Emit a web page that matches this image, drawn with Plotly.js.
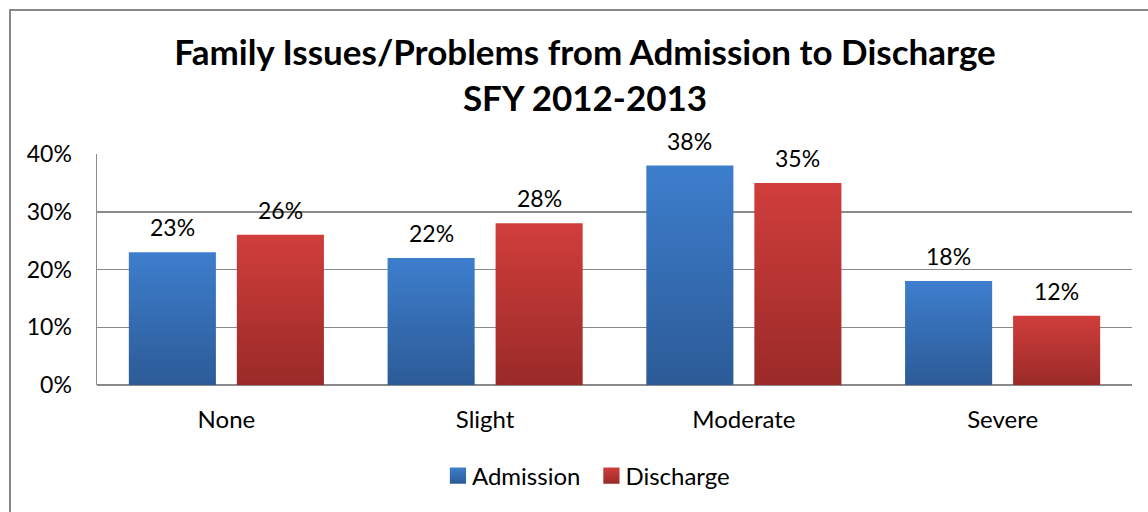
<!DOCTYPE html>
<html>
<head>
<meta charset="utf-8">
<script src="https://cdn.plot.ly/plotly-3.0.1.min.js"></script>
<style>
  html, body { margin: 0; padding: 0; width: 1148px; height: 512px; overflow: hidden; background: #fff; }
  #frame { position: absolute; left: 9px; top: 9px; width: 1200px; height: 600px; border: 2px solid #878787; box-sizing: border-box; pointer-events: none; z-index: 5; }
  #chart { position: absolute; left: 0; top: 0; width: 1148px; height: 512px; }
</style>
</head>
<body>
<div id="chart"></div>
<div id="frame"></div>
<script>
// Family issue severity levels and the share of youth at each level
const categories = ['None', 'Slight', 'Moderate', 'Severe'];
const admission = [23, 22, 38, 18];
const discharge = [26, 28, 35, 12];
const seriesNames = ['Admission', 'Discharge'];
const yTicks = [0, 10, 20, 30, 40];

const FONT = 'Lato, "Open Sans", sans-serif';
const GRID = '#8a8a8a';

const traces = [
  { type: 'bar', name: seriesNames[0], x: categories, y: admission,
    marker: { color: '#356fb8' }, hoverinfo: 'skip' },
  { type: 'bar', name: seriesNames[1], x: categories, y: discharge,
    marker: { color: '#bb3634' }, hoverinfo: 'skip' }
];

// value labels sitting above each bar
const annotations = [];
[admission, discharge].forEach((vals, s) => {
  vals.forEach((v, i) => {
    annotations.push({
      x: categories[i], y: v, xref: 'x', yref: 'y',
      text: v + '%', showarrow: false,
      xshift: s === 0 ? -54 : 54, yshift: 25, yanchor: 'middle',
      font: { family: FONT, size: 23, color: '#000' }
    });
  });
});

const layout = {
  width: 1148, height: 512,
  margin: { l: 97, r: 16, t: 154, b: 127 },
  paper_bgcolor: '#fff', plot_bgcolor: '#fff',
  font: { family: FONT, color: '#000' },
  title: {
    text: '<b>Family Issues/Problems from Admission to Discharge<br>SFY 2012-2013</b>',
    font: { family: FONT, size: 35, color: '#000' },
    x: 585 / 1148, xanchor: 'center', xref: 'container',
    y: 1 - 65 / 512, yanchor: 'top', yref: 'container'
  },
  barmode: 'group',
  bargap: 0.165,
  bargroupgap: 0.194,
  xaxis: {
    type: 'category', showgrid: false, zeroline: false, showline: false,
    ticks: '', ticklabelstandoff: 18,
    tickfont: { family: FONT, size: 24, color: '#000' }
  },
  yaxis: {
    range: [0, 40], tickvals: yTicks, ticktext: yTicks.map(t => t + '%'),
    showgrid: true, gridcolor: GRID, gridwidth: 1.5,
    zeroline: true, zerolinecolor: GRID, zerolinewidth: 1.5,
    showline: true, linecolor: GRID, linewidth: 1.5,
    ticks: '', ticklabelstandoff: 19,
    tickfont: { family: FONT, size: 23, color: '#000' }
  },
  legend: {
    orientation: 'h', x: 0.47, xanchor: 'center', y: -0.394, yanchor: 'middle',
    font: { family: FONT, size: 24, color: '#000' },
    itemclick: false, itemdoubleclick: false, traceorder: 'normal'
  },
  annotations: annotations,
  showlegend: true
};

// vertical shading on the bars, light at the top and deeper at the base
function applyGradients(gd) {
  const svg = gd.querySelector('svg.main-svg');
  if (!svg) return;
  const ns = 'http://www.w3.org/2000/svg';
  let defs = svg.querySelector('defs');
  if (!defs) { defs = document.createElementNS(ns, 'defs'); svg.insertBefore(defs, svg.firstChild); }
  const stops = { gradA: ['#3d7ecd', '#2c5b97'], gradD: ['#d03e3b', '#9a2a28'] };
  Object.keys(stops).forEach(id => {
    if (svg.querySelector('#' + id)) return;
    const g = document.createElementNS(ns, 'linearGradient');
    g.setAttribute('id', id);
    g.setAttribute('x1', '0'); g.setAttribute('y1', '0');
    g.setAttribute('x2', '0'); g.setAttribute('y2', '1');
    stops[id].forEach((c, k) => {
      const st = document.createElementNS(ns, 'stop');
      st.setAttribute('offset', k ? '1' : '0');
      st.setAttribute('stop-color', c);
      g.appendChild(st);
    });
    defs.appendChild(g);
  });
  const ids = ['gradA', 'gradD'];
  gd.querySelectorAll('.barlayer .trace.bars').forEach((tr, t) => {
    tr.querySelectorAll('path').forEach(p => { p.style.fill = 'url(#' + ids[t] + ')'; });
  });
  // larger legend swatches, set a little closer to their labels
  gd.querySelectorAll('.legend .traces').forEach((tr, t) => {
    tr.querySelectorAll('.legendpoints path').forEach(p => {
      p.style.fill = 'url(#' + ids[t] + ')';
      const prev = p.getAttribute('transform') || '';
      p.setAttribute('transform', 'translate(6,0) ' + prev + ' scale(1.35)');
    });
  });
}

Plotly.newPlot('chart', traces, layout, { displayModeBar: false, staticPlot: true })
  .then(applyGradients);
</script>
</body>
</html>
